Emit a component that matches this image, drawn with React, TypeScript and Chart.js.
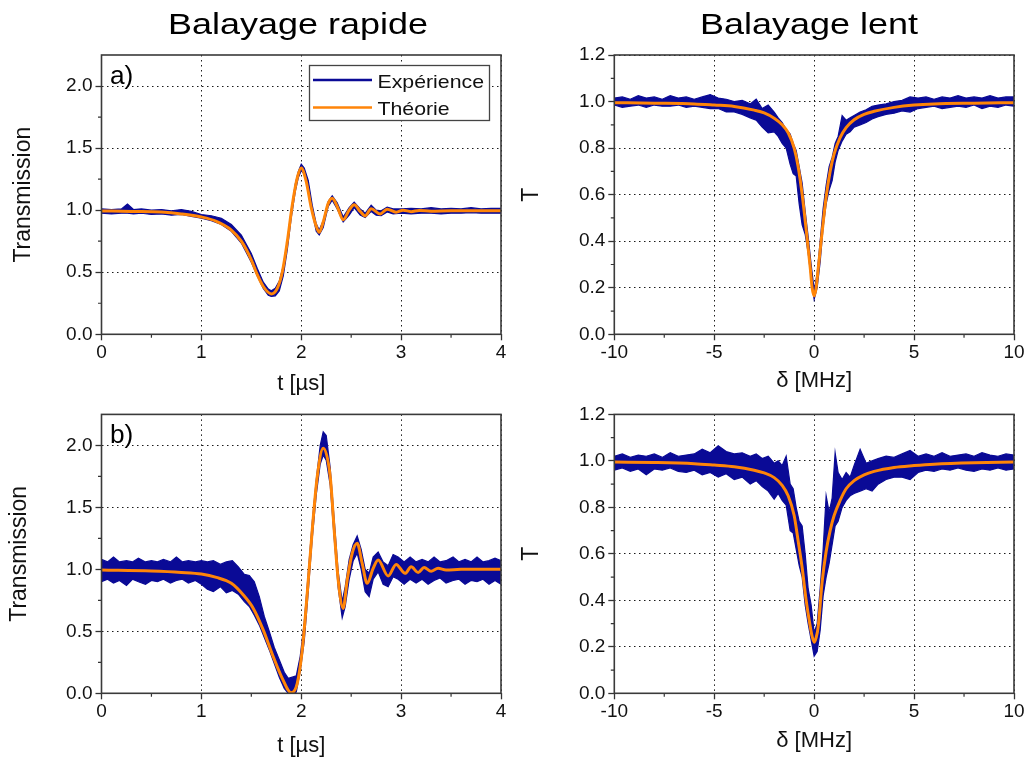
import React, { useEffect, useRef } from 'react';
import { Chart, registerables } from 'chart.js';

Chart.register(...registerables);

// ---------- DATA ----------
// Panel a) fast sweep, weak signal
const tTheoryA = [0, 0.3, 0.6, 0.8, 1.0, 1.15, 1.3, 1.4, 1.5, 1.56, 1.62, 1.7, 1.76, 1.81, 1.86, 1.91, 1.96, 2.0, 2.05, 2.1, 2.15, 2.18, 2.22, 2.27, 2.31, 2.36, 2.42, 2.48, 2.53, 2.59, 2.64, 2.7, 2.79, 2.86, 2.95, 3.02, 3.1, 3.18, 3.3, 3.5, 4.0];
const theoryA = [0.994, 0.99, 0.985, 0.97, 0.945, 0.91, 0.84, 0.75, 0.6, 0.48, 0.385, 0.325, 0.37, 0.5, 0.745, 1.04, 1.26, 1.34, 1.23, 1.02, 0.87, 0.822, 0.905, 1.055, 1.097, 1.03, 0.922, 1.0, 1.043, 0.99, 0.954, 1.012, 0.97, 1.008, 0.984, 1.0, 0.988, 0.998, 0.992, 0.995, 0.995];
const tExpA = [0, 0.1, 0.2, 0.26, 0.32, 0.4, 0.5, 0.6, 0.7, 0.8, 0.9, 1.0, 1.1, 1.2, 1.3, 1.4, 1.5,
  1.56, 1.62, 1.67, 1.7, 1.74, 1.78, 1.82, 1.86, 1.9, 1.94, 1.97, 2.0,
  2.03, 2.07, 2.11, 2.15, 2.18, 2.22, 2.27, 2.31, 2.36, 2.42,
  2.48, 2.53, 2.59, 2.64, 2.7, 2.75, 2.8, 2.86, 2.92,
  3.0, 3.1, 3.2, 3.3, 3.4, 3.5, 3.6, 3.7, 3.8, 3.9, 4.0];
const expHiA = [1.01, 1.005, 1.01, 1.05, 1.005, 1.01, 1.0, 1.005, 0.995, 1.005, 0.99, 0.965, 0.955, 0.935, 0.885, 0.8, 0.65,
  0.53, 0.42, 0.365, 0.35, 0.37, 0.43, 0.55, 0.75, 1.0, 1.21, 1.31, 1.37,
  1.34, 1.24, 1.04, 0.89, 0.84, 0.915, 1.07, 1.115, 1.06, 0.945,
  1.02, 1.065, 1.01, 0.975, 1.04, 1.0, 0.995, 1.025, 1.01,
  1.01, 1.015, 1.01, 1.02, 1.01, 1.015, 1.01, 1.02, 1.01, 1.015, 1.015];
const expLoA = [0.975, 0.97, 0.975, 0.975, 0.97, 0.975, 0.965, 0.97, 0.96, 0.965, 0.95, 0.935, 0.915, 0.885, 0.83, 0.735, 0.58,
  0.47, 0.37, 0.315, 0.305, 0.31, 0.35, 0.47, 0.68, 0.94, 1.15, 1.26, 1.32,
  1.29, 1.18, 0.98, 0.83, 0.8, 0.86, 1.03, 1.08, 1.01, 0.905,
  0.96, 1.02, 0.96, 0.94, 0.99, 0.96, 0.955, 0.985, 0.97,
  0.975, 0.97, 0.975, 0.975, 0.97, 0.975, 0.975, 0.98, 0.975, 0.975, 0.975];

// Panel b) fast sweep, strong signal
const tTheoryB = [0, 0.5, 0.8, 1.0, 1.15, 1.3, 1.42, 1.52, 1.62, 1.72, 1.81, 1.9, 1.96, 2.01, 2.06, 2.11, 2.16, 2.22, 2.29, 2.33, 2.37, 2.42, 2.46, 2.51, 2.56, 2.61, 2.66, 2.72, 2.77, 2.87, 2.95, 3.04, 3.1, 3.17, 3.23, 3.3, 3.37, 3.45, 3.6, 4.0];
const theoryB = [0.994, 0.986, 0.975, 0.962, 0.935, 0.887, 0.793, 0.685, 0.51, 0.295, 0.121, 0.005, 0.08, 0.35, 0.806, 1.317, 1.747, 1.976, 1.747, 1.317, 0.914, 0.685, 0.914, 1.129, 1.21, 1.048, 0.887, 1.008, 1.075, 0.946, 1.04, 0.968, 1.02, 0.975, 1.015, 0.985, 1.008, 0.995, 1.0, 1.0];
const tExpB = [0, 0.06, 0.12, 0.18, 0.25, 0.31, 0.37, 0.44, 0.5, 0.56, 0.62, 0.69, 0.75, 0.81, 0.87, 0.94, 1.0,
  1.06, 1.12, 1.19, 1.25, 1.31, 1.37, 1.43, 1.48, 1.53, 1.58, 1.63, 1.68, 1.73, 1.78, 1.83, 1.87, 1.91, 1.95, 1.99,
  2.03, 2.07, 2.11, 2.15, 2.19, 2.22, 2.25, 2.29, 2.33, 2.37, 2.41, 2.44, 2.48, 2.52, 2.56, 2.6, 2.64, 2.68, 2.72, 2.77, 2.82, 2.87, 2.92, 2.97,
  3.03, 3.09, 3.15, 3.21, 3.27, 3.33, 3.39, 3.45, 3.52, 3.58, 3.64, 3.7, 3.76, 3.82, 3.88, 3.94, 4.0];
const expHiB = [1.08, 1.06, 1.1, 1.06, 1.07, 1.06, 1.09, 1.06, 1.07, 1.06, 1.08, 1.06, 1.1, 1.06, 1.07, 1.06, 1.07,
  1.06, 1.07, 1.04, 1.06, 1.07, 1.02, 0.96, 0.95, 0.9, 0.78, 0.62, 0.5, 0.37, 0.27, 0.17, 0.12, 0.13, 0.14, 0.3,
  0.57, 0.97, 1.38, 1.72, 2.0, 2.11, 2.08, 1.82, 1.4, 0.98, 0.74, 0.86, 1.08, 1.2, 1.27, 1.16, 1.0, 0.97, 1.1, 1.14, 1.06, 1.03, 1.12, 1.1,
  1.06, 1.1, 1.06, 1.08, 1.06, 1.1, 1.06, 1.07, 1.1, 1.06, 1.08, 1.06, 1.1, 1.06, 1.07, 1.09, 1.07];
const expLoB = [0.9, 0.92, 0.89, 0.91, 0.87, 0.92, 0.9, 0.88, 0.91, 0.9, 0.92, 0.89, 0.91, 0.92, 0.89, 0.91, 0.88,
  0.84, 0.82, 0.86, 0.81, 0.83, 0.8, 0.74, 0.7, 0.63, 0.55, 0.45, 0.35, 0.24, 0.13, 0.04, 0.0, 0.0, 0.01, 0.18,
  0.42, 0.82, 1.25, 1.6, 1.85, 1.92, 1.88, 1.68, 1.25, 0.85, 0.61, 0.7, 0.92, 1.07, 1.13, 1.0, 0.82, 0.78, 0.92, 0.98, 0.88, 0.86, 0.94, 0.92,
  0.88, 0.92, 0.89, 0.92, 0.88, 0.91, 0.93, 0.89, 0.91, 0.92, 0.88, 0.91, 0.9, 0.92, 0.88, 0.91, 0.88];

// Panels c) and d) slow sweep (detuning in MHz)
const deltaTheory = [-10, -8, -6, -5, -4, -3, -2.5, -2, -1.6, -1.3, -1.0, -0.8, -0.6, -0.4, -0.2, -0.1, 0, 0.1, 0.2, 0.4, 0.6, 0.8, 1.0, 1.3, 1.6, 2, 2.5, 3, 4, 5, 6, 8, 10];
const theoryC = [0.995, 0.993, 0.99, 0.985, 0.979, 0.963, 0.951, 0.928, 0.9, 0.866, 0.8, 0.72, 0.6, 0.45, 0.29, 0.2, 0.165, 0.2, 0.28, 0.44, 0.59, 0.7, 0.775, 0.845, 0.888, 0.922, 0.945, 0.958, 0.975, 0.985, 0.99, 0.993, 0.995];
const theoryD = [0.995, 0.993, 0.988, 0.982, 0.975, 0.96, 0.948, 0.928, 0.895, 0.85, 0.765, 0.655, 0.54, 0.4, 0.29, 0.245, 0.22, 0.24, 0.285, 0.48, 0.61, 0.7, 0.765, 0.83, 0.88, 0.915, 0.94, 0.955, 0.972, 0.98, 0.986, 0.992, 0.995];
const deltaExp = [-10, -9.6, -9.2, -8.8, -8.4, -8.0, -7.6, -7.2, -6.8, -6.4, -6.0,
  -5.6, -5.2, -4.8, -4.4, -4.0, -3.6, -3.2,
  -2.9, -2.6, -2.3, -2.0, -1.8, -1.6, -1.4, -1.2,
  -1.05, -0.9, -0.75, -0.6, -0.45, -0.3, -0.15, 0, 0.15, 0.3, 0.45, 0.6, 0.75, 0.9, 1.05,
  1.2, 1.4, 1.6, 1.8, 2.0, 2.3, 2.6, 2.9, 3.2,
  3.6, 4.0, 4.4, 4.8, 5.2, 5.6, 6.0, 6.4, 6.8, 7.2, 7.6, 8.0, 8.4, 8.8, 9.2, 9.6, 10];
const expHiC = [1.015, 1.02, 1.01, 1.025, 1.015, 1.02, 1.01, 1.025, 1.015, 1.02, 1.01,
  1.02, 1.03, 1.015, 1.01, 1.0, 1.005, 0.99,
  1.01, 0.97, 0.985, 0.955, 0.93, 0.91, 0.88, 0.86,
  0.82, 0.79, 0.72, 0.65, 0.53, 0.42, 0.3, 0.19, 0.26, 0.4, 0.54, 0.64, 0.72, 0.76, 0.82,
  0.85, 0.94, 0.92, 0.93, 0.94, 0.955, 0.965, 0.98, 0.985,
  0.99, 1.0, 1.005, 1.02, 1.015, 1.02, 1.01, 1.02, 1.015, 1.025, 1.015, 1.02, 1.015, 1.025, 1.015, 1.02, 1.02];
const expLoC = [0.985, 0.975, 0.98, 0.985, 0.975, 0.985, 0.98, 0.98, 0.985, 0.975, 0.98,
  0.975, 0.97, 0.97, 0.955, 0.955, 0.945, 0.93,
  0.92, 0.89, 0.865, 0.87, 0.85, 0.82, 0.8, 0.73,
  0.69, 0.68, 0.56, 0.47, 0.43, 0.35, 0.24, 0.15, 0.2, 0.31, 0.46, 0.56, 0.62, 0.66, 0.74,
  0.79, 0.83, 0.86, 0.87, 0.89, 0.9, 0.91, 0.925, 0.935,
  0.945, 0.95, 0.96, 0.955, 0.97, 0.975, 0.98, 0.97, 0.975, 0.98, 0.975, 0.985, 0.97, 0.98, 0.975, 0.985, 0.98];
const expHiD = [1.02, 1.03, 1.015, 1.025, 1.02, 1.03, 1.015, 1.035, 1.02, 1.025, 1.03,
  1.05, 1.035, 1.065, 1.04, 1.03, 1.035, 1.02,
  1.03, 1.01, 1.02, 0.99, 1.0, 0.98, 1.02, 0.9,
  0.88, 0.8, 0.74, 0.72, 0.6, 0.45, 0.38, 0.26, 0.3, 0.45, 0.62, 0.85, 0.78, 0.84, 1.035,
  0.95, 0.92, 0.95, 0.93, 0.98, 1.05, 0.99, 1.0, 1.01,
  1.02, 1.015, 1.03, 1.045, 1.02, 1.03, 1.02, 1.035, 1.02, 1.025, 1.03, 1.02, 1.035, 1.025, 1.02, 1.03, 1.025];
const expLoD = [0.96, 0.97, 0.955, 0.965, 0.94, 0.965, 0.96, 0.97, 0.955, 0.95, 0.96,
  0.94, 0.95, 0.93, 0.945, 0.92, 0.93, 0.9,
  0.915, 0.89, 0.87, 0.835, 0.86, 0.83, 0.81, 0.7,
  0.69, 0.62, 0.55, 0.5, 0.38, 0.3, 0.23, 0.16, 0.18, 0.27, 0.42, 0.5, 0.56, 0.64, 0.72,
  0.74, 0.8, 0.83, 0.85, 0.86, 0.87, 0.88, 0.87, 0.9,
  0.92, 0.93, 0.93, 0.92, 0.95, 0.96, 0.955, 0.965, 0.96, 0.97, 0.96, 0.955, 0.965, 0.96, 0.97, 0.96, 0.965];

// Axis ticks
const timeMinorTicks = [0.5, 1.5, 2.5, 3.5];
const transMinorTicks = [0.25, 0.75, 1.25, 1.75];
const deltaMinorTicks = [-7.5, -2.5, 2.5, 7.5];
const tMinorTicks = [0.1, 0.3, 0.5, 0.7, 0.9, 1.1];

const columnTitles = ['Balayage rapide', 'Balayage lent'];
const legendLabels = ['Expérience', 'Théorie'];

// ---------- STYLE ----------
const BLUE = '#0a0a96';
const ORANGE = '#ff8508';
const FONT = '"Liberation Sans", Arial, sans-serif';
const INK = '#111';

type Panel = {
  key: string; left: number; top: number; width: number; height: number;
  area: { left: number; top: number; right: number; bottom: number };
  xH: number;
  xMin: number; xMax: number; xStep: number; xMinor: number[];
  yMax: number; yStep: number; yMinor: number[];
  xTitle: string; yTitle: string; yTitlePad: number;
  expX: number[]; expHi: number[]; expLo: number[];
  thX: number[]; thY: number[];
  title?: string; titleX?: number;
  label?: string; labelY?: number;
  legend?: boolean;
};

const panels: Panel[] = [
  {
    key: 'a', left: 0, top: 0, width: 515, height: 400,
    area: { left: 101.5, top: 55, right: 501, bottom: 334.3 }, xH: 63.2,
    xMin: 0, xMax: 4, xStep: 1, xMinor: timeMinorTicks,
    yMax: 2.25, yStep: 0.5, yMinor: transMinorTicks,
    xTitle: 't [µs]', yTitle: 'Transmission', yTitlePad: 9.5,
    expX: tExpA, expHi: expHiA, expLo: expLoA, thX: tTheoryA, thY: theoryA,
    title: columnTitles[0], titleX: 298, label: 'a)', labelY: 84, legend: true,
  },
  {
    key: 'b', left: 0, top: 400, width: 515, height: 363,
    area: { left: 101.5, top: 13.3, right: 501, bottom: 293.3 }, xH: 66.2,
    xMin: 0, xMax: 4, xStep: 1, xMinor: timeMinorTicks,
    yMax: 2.25, yStep: 0.5, yMinor: transMinorTicks,
    xTitle: 't [µs]', yTitle: 'Transmission', yTitlePad: 6,
    expX: tExpB, expHi: expHiB, expLo: expLoB, thX: tTheoryB, thY: theoryB,
    label: 'b)', labelY: 42.5,
  },
  {
    key: 'c', left: 515, top: 0, width: 515, height: 400,
    area: { left: 99.3, top: 55, right: 499, bottom: 334.3 }, xH: 60.2,
    xMin: -10, xMax: 10, xStep: 5, xMinor: deltaMinorTicks,
    yMax: 1.2, yStep: 0.2, yMinor: tMinorTicks,
    xTitle: 'δ [MHz]', yTitle: 'T', yTitlePad: 2.7,
    expX: deltaExp, expHi: expHiC, expLo: expLoC, thX: deltaTheory, thY: theoryC,
    title: columnTitles[1], titleX: 294,
  },
  {
    key: 'd', left: 515, top: 400, width: 515, height: 363,
    area: { left: 99.3, top: 13.3, right: 499, bottom: 293.3 }, xH: 60.9,
    xMin: -10, xMax: 10, xStep: 5, xMinor: deltaMinorTicks,
    yMax: 1.2, yStep: 0.2, yMinor: tMinorTicks,
    xTitle: 'δ [MHz]', yTitle: 'T', yTitlePad: 2.7,
    expX: deltaExp, expHi: expHiD, expLo: expLoD, thX: deltaTheory, thY: theoryD,
  },
];

const zip = (xs: number[], ys: number[]) => xs.map((x, i) => ({ x, y: ys[i] }));

function stretchedText(ctx: CanvasRenderingContext2D, text: string, x: number, y: number, sx: number, align: CanvasTextAlign) {
  ctx.save();
  ctx.translate(x, y);
  ctx.scale(sx, 1);
  ctx.textAlign = align;
  ctx.textBaseline = 'alphabetic';
  ctx.fillText(text, 0, 0);
  ctx.restore();
}

function buildConfig(p: Panel): any {
  const decor = {
    id: 'decor' + p.key,
    afterDraw(chart: any) {
      const { ctx, chartArea: a, scales } = chart;
      ctx.save();
      // minor ticks
      ctx.strokeStyle = '#333';
      ctx.lineWidth = 1.2;
      ctx.setLineDash([]);
      ctx.beginPath();
      for (const v of p.xMinor) {
        const x = scales.x.getPixelForValue(v);
        ctx.moveTo(x, a.bottom);
        ctx.lineTo(x, a.bottom + 3.5);
      }
      for (const v of p.yMinor) {
        const y = scales.y.getPixelForValue(v);
        ctx.moveTo(a.left - 3.5, y);
        ctx.lineTo(a.left, y);
      }
      ctx.stroke();
      // frame
      ctx.strokeStyle = '#3a3a3a';
      ctx.lineWidth = 1.6;
      ctx.strokeRect(a.left, a.top, a.right - a.left, a.bottom - a.top);
      ctx.fillStyle = '#000';
      // column title
      if (p.title) {
        ctx.font = `29px ${FONT}`;
        stretchedText(ctx, p.title, p.titleX as number, 34, 1.24, 'center');
      }
      // panel label
      if (p.label) {
        ctx.font = `25px ${FONT}`;
        stretchedText(ctx, p.label, a.left + 8.5, p.labelY as number, 1.05, 'left');
      }
      // legend
      if (p.legend) {
        const bx = 309.5, by = 65.5, bw = 180, bh = 55;
        ctx.fillStyle = '#fff';
        ctx.fillRect(bx, by, bw, bh);
        ctx.strokeStyle = '#444';
        ctx.lineWidth = 1.3;
        ctx.strokeRect(bx, by, bw, bh);
        const entries = [
          { text: legendLabels[0], color: BLUE, y: 80 },
          { text: legendLabels[1], color: ORANGE, y: 107.5 },
        ];
        ctx.font = `19px ${FONT}`;
        for (const e of entries) {
          ctx.strokeStyle = e.color;
          ctx.lineWidth = 2.6;
          ctx.beginPath();
          ctx.moveTo(313, e.y);
          ctx.lineTo(372, e.y);
          ctx.stroke();
          ctx.fillStyle = INK;
          stretchedText(ctx, e.text, 377.5, e.y + 7.5, 1.12, 'left');
        }
      }
      ctx.restore();
    },
  };

  const tickFont = { family: FONT, size: 19 };
  const titleFont = { family: FONT, size: 22 };

  return {
    type: 'line',
    data: {
      datasets: [
        {
          label: legendLabels[1],
          data: zip(p.thX, p.thY),
          borderColor: ORANGE,
          borderWidth: 3,
          pointRadius: 0,
          cubicInterpolationMode: 'monotone',
          fill: false,
        },
        {
          label: legendLabels[0] + ' min',
          data: zip(p.expX, p.expLo),
          borderColor: BLUE,
          borderWidth: 1.2,
          pointRadius: 0,
          tension: 0,
          fill: false,
        },
        {
          label: legendLabels[0] + ' max',
          data: zip(p.expX, p.expHi),
          borderColor: BLUE,
          borderWidth: 1.2,
          pointRadius: 0,
          tension: 0,
          fill: '-1',
          backgroundColor: BLUE,
        },
      ],
    },
    options: {
      responsive: false,
      animation: false,
      devicePixelRatio: 1,
      events: [],
      layout: {
        padding: {
          left: 0,
          top: p.area.top,
          right: p.width - p.area.right,
          bottom: p.height - p.area.bottom - p.xH,
        },
      },
      plugins: {
        legend: { display: false },
        title: { display: false },
        tooltip: { enabled: false },
      },
      scales: {
        x: {
          type: 'linear',
          min: p.xMin,
          max: p.xMax,
          afterFit: (s: any) => { s.height = p.xH; },
          ticks: {
            stepSize: p.xStep,
            font: tickFont,
            color: INK,
            padding: 1,
            maxRotation: 0,
            autoSkip: false,
            includeBounds: false,
            callback: (v: any) => String(Math.round(Number(v))),
          },
          grid: { color: '#1a1a1a', lineWidth: 1, tickLength: 6, tickColor: '#333', tickWidth: 1.3 },
          border: { display: false, dash: [1.5, 3.5] },
          title: { display: true, text: p.xTitle, font: titleFont, color: INK, padding: { top: 0, bottom: 0 } },
        },
        y: {
          type: 'linear',
          min: 0,
          max: p.yMax,
          afterFit: (s: any) => { s.width = p.area.left; },
          ticks: {
            stepSize: p.yStep,
            font: tickFont,
            color: INK,
            padding: 3,
            includeBounds: false,
            callback: (v: any) => Number(v).toFixed(1),
          },
          grid: { color: '#1a1a1a', lineWidth: 1, tickLength: 6, tickColor: '#333', tickWidth: 1.3 },
          border: { display: false, dash: [1.5, 3.5] },
          title: { display: true, text: p.yTitle, font: { family: FONT, size: 23 }, color: INK, padding: { top: p.yTitlePad, bottom: 0 } },
        },
      },
    },
    plugins: [decor],
  };
}

function PanelChart({ p }: { p: Panel }) {
  const ref = useRef<HTMLCanvasElement>(null);
  useEffect(() => {
    if (!ref.current) return;
    const chart = new Chart(ref.current, buildConfig(p));
    return () => chart.destroy();
  }, [p]);
  return (
    <canvas
      ref={ref}
      width={p.width}
      height={p.height}
      style={{ position: 'absolute', left: p.left, top: p.top, width: p.width, height: p.height }}
    />
  );
}

export default function App() {
  return (
    <div style={{ position: 'fixed', left: 0, top: 0, width: 1030, height: 763, background: '#fff', overflow: 'hidden' }}>
      {panels.map((p) => (
        <PanelChart key={p.key} p={p} />
      ))}
    </div>
  );
}
